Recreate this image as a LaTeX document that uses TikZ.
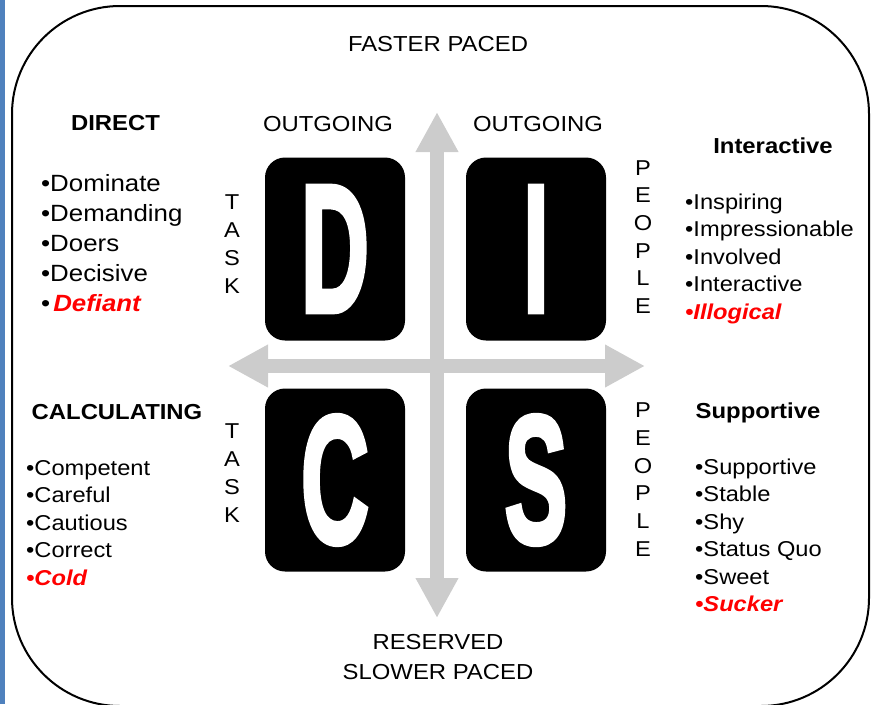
\documentclass[tikz,border=0pt]{standalone}
\usepackage{fontspec}
\setmainfont{Liberation Sans}[FakeStretch=1.1]
\newfontfamily\lettrefont{Liberation Sans Bold}[FakeBold=3]
\usepackage{tikz}
\usetikzlibrary{arrows.meta}

% grande lettre blanche, étroite
\newcommand{\grandelettre}[1]{\scalebox{0.52}[1]{\lettrefont\fontsize{182}{182}\selectfont #1}}

\begin{document}
\begin{tikzpicture}[x=1pt, y=-1pt,
    pointe/.tip={Triangle[length=40pt,width=40pt]},
    axe/.style={line width=14pt, draw=gris, arrows={pointe-pointe}},
    carte/.style={fill=black, rounded corners=20pt, minimum width=140pt, minimum height=183pt, inner sep=0pt, text=white},
    texte/.style={font=\fontsize{21.7}{26}\selectfont, anchor=base, inner sep=0pt},
    titre/.style={font=\fontsize{21.7}{26}\selectfont\bfseries, anchor=base, inner sep=0pt},
    item/.style={font=\fontsize{21.5}{26}\selectfont, anchor=base west, inner sep=0pt},
    lettre/.style={font=\fontsize{21.5}{26}\selectfont, inner sep=0pt}]

    % Définition des couleurs
    \definecolor{gris}{RGB}{204, 204, 204}
    \definecolor{bleu}{RGB}{79, 129, 189}
    \definecolor{rouge}{RGB}{255, 0, 0}

    \useasboundingbox (0,0) rectangle (877,704);

    % Bande bleue et cadre
    \fill[bleu] (0,0) rectangle (5,704);
    \draw[line width=2pt, rounded corners=108pt] (12,6) rectangle (869,706);

    % Cartes D I S C
    \node[carte] (D) at (335,249) {\grandelettre{D}};
    \node[carte] (I) at (536,249) {\grandelettre{I}};
    \node[carte] (C) at (335,480) {\grandelettre{C}};
    \node[carte] (S) at (536,480) {\grandelettre{S}};

    % Axes
    \coordinate (haut) at (437,112);
    \coordinate (bas) at (437,618);
    \coordinate (gauche) at (228,366);
    \coordinate (droite) at (645,366);
    \draw[axe] (haut) -- (bas);
    \draw[axe] (gauche) -- (droite);

    % Textes des axes
    \node[texte] (rapide) at (438,51) {FASTER PACED};
    \node[texte] (reserve) at (438,649) {RESERVED};
    \node[texte] (lent) at (438,679) {SLOWER PACED};
    \node[texte] (sortantD) at (328,131) {OUTGOING};
    \node[texte] (sortantI) at (538,131) {OUTGOING};

    % Mots verticaux
    \foreach \l [count=\i] in {T,A,S,K} {
        \node[lettre] (tacheH\i) at (232, 174+28*\i) {\l};
        \node[lettre] (tacheB\i) at (232, 403+28*\i) {\l};
    }
    \foreach \l [count=\i] in {P,E,O,P,L,E} {
        \node[lettre] (genteH\i) at (643, 140.4+27.6*\i) {\l};
        \node[lettre] (genteB\i) at (643, 382.2+27.8*\i) {\l};
    }

    % Direct
    \node[titre] (direct) at (115.5,130) {DIRECT};
    \foreach \mot [count=\i] in {Dominate, Demanding, Doers, Decisive}
        \node[item, font=\fontsize{23.5}{28}\selectfont] (direct\i) at (41, 161+30*\i) {•\mot};
    \node[item, font=\fontsize{23.5}{28}\selectfont] (direct5) at (41,311) {•\hspace{3pt}\textcolor{rouge}{\bfseries\itshape Defiant}};

    % Interactive
    \node[titre] (inter) at (773,153) {Interactive};
    \foreach \mot [count=\i] in {Inspiring, Impressionable, Involved, Interactive}
        \node[item] (inter\i) at (685, 181.5+27.5*\i) {•\mot};
    \node[item, text=rouge, font=\fontsize{21.5}{26}\selectfont\bfseries\itshape] (inter5) at (685,319) {•Illogical};

    % Calculating
    \node[titre] (calcul) at (117,419) {CALCULATING};
    \foreach \mot [count=\i] in {Competent, Careful, Cautious, Correct}
        \node[item] (calcul\i) at (26, 447.5+27.5*\i) {•\mot};
    \node[item, text=rouge, font=\fontsize{21.5}{26}\selectfont\bfseries\itshape] (calcul5) at (26,585) {•Cold};

    % Supportive
    \node[titre] (soutien) at (758,418) {Supportive};
    \foreach \mot [count=\i] in {Supportive, Stable, Shy, Status Quo, Sweet}
        \node[item] (soutien\i) at (695, 446.5+27.5*\i) {•\mot};
    \node[item, text=rouge, font=\fontsize{21.5}{26}\selectfont\bfseries\itshape] (soutien6) at (695,611.5) {•Sucker};

\end{tikzpicture}
\end{document}
